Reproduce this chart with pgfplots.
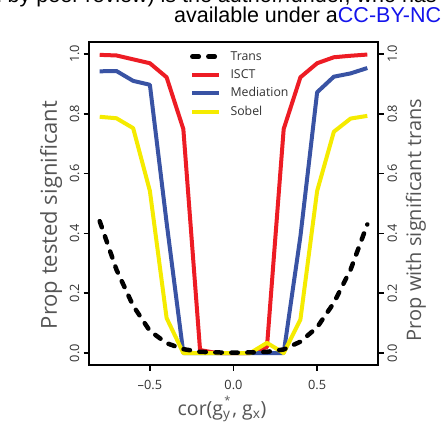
\documentclass[border=0pt]{standalone}
\usepackage{pgfplots}
\pgfplotsset{compat=1.18}
\usepackage{fontspec}
\setmainfont{Open Sans}
\newfontfamily\hdr{Liberation Sans}
\definecolor{cred}{RGB}{237,28,36}
\definecolor{cblue}{RGB}{57,83,164}
\definecolor{cyellow}{RGB}{245,235,0}
\definecolor{tickgray}{RGB}{50,50,50}
\definecolor{labgray}{RGB}{85,85,85}
\definecolor{linkblue}{RGB}{20,20,235}
\tikzset{transstyle/.style={black, line width=4.5pt, line cap=round, dash pattern=on 6.5pt off 9.5pt}}
\pgfplotsset{
  common/.style={
    at={(0pt,0pt)}, anchor=south west,
    width=289pt, height=323pt, scale only axis,
    xmin=-0.864, xmax=0.864, ymin=-0.04, ymax=1.04,
    axis line style={line width=1.5pt},
    tick align=outside, major tick length=5.5pt,
    tick style={black, line width=1.5pt},
    ytick={0,0.2,0.4,0.6,0.8,1}, yticklabels={0.0,0.2,0.4,0.6,0.8,1.0},
    tick label style={font=\fontsize{12.8}{15}\selectfont, text=tickgray, inner sep=0pt},
  }
}
\begin{document}
\begin{tikzpicture}
\useasboundingbox (-89pt,-69pt) rectangle (352pt,365pt);
\begin{scope}
\clip (-89pt,-69pt) rectangle (352pt,365pt);
\node[anchor=base east, inner sep=0pt, font=\hdr\fontsize{21.5}{24}\selectfont] at (348pt,362pt) {(which was not certified by peer review) is the author/funder, who has};
\node[anchor=base west, inner sep=0pt, font=\hdr\fontsize{21.5}{24}\selectfont] at (85pt,342pt) {available under a\textcolor{linkblue}{CC-BY-NC 4.0 International license.}};
\end{scope}

\begin{axis}[common,
  xtick={-0.5,0,0.5}, xticklabels={--0.5,0.0,0.5},
  xtick pos=bottom, ytick pos=left,
  xticklabel style={anchor=north}, xticklabel shift=9.5pt,
  yticklabel style={rotate=90, anchor=south}, yticklabel shift=4pt,
  every axis plot/.append style={line width=4pt, line join=round},
  legend style={at={(0.349,0.982)}, anchor=north west, draw=none, fill=none,
    inner sep=0pt, row sep=1.2pt, column sep=9pt,
    nodes={inner sep=0pt, text height=12pt, text depth=5.2pt},
    font=\fontsize{12.3}{14}\selectfont, text=tickgray},
  legend cell align=left,
  legend image code/.code={\draw[#1] (0pt,0pt) -- (27pt,0pt);},
]
\addlegendimage{transstyle}
\addlegendentry{Trans}
\addplot[cred] table {
-0.8 0.997
-0.7 0.995
-0.6 0.982
-0.5 0.969
-0.4 0.922
-0.3 0.749
-0.2 0.010
-0.1 0.0
0.0 0.0
0.1 0.0
0.2 0.020
0.3 0.749
0.4 0.922
0.5 0.969
0.6 0.989
0.7 0.994
0.8 0.998
};
\addlegendentry{ISCT}
\addplot[cblue] table {
-0.8 0.942
-0.7 0.943
-0.6 0.910
-0.5 0.897
-0.4 0.436
-0.3 0.0
-0.2 0.0
-0.1 0.0
0.0 0.0
0.1 0.0
0.2 0.0
0.3 0.0
0.4 0.390
0.5 0.872
0.6 0.924
0.7 0.935
0.8 0.953
};
\addlegendentry{Mediation}
\addplot[cyellow] table {
-0.8 0.790
-0.7 0.785
-0.6 0.752
-0.5 0.542
-0.4 0.117
-0.3 0.0
-0.2 0.0
-0.1 0.0
0.0 0.0
0.1 0.0
0.2 0.034
0.3 0.0
0.4 0.112
0.5 0.542
0.6 0.740
0.7 0.784
0.8 0.793
};
\addlegendentry{Sobel}
\end{axis}

\begin{axis}[common,
  axis x line=none, axis y line*=right,
  yticklabel style={rotate=90, anchor=north}, yticklabel shift=4pt,
]
\addplot[transstyle] table {
-0.8 0.441
-0.7 0.279
-0.6 0.158
-0.5 0.074
-0.4 0.033
-0.3 0.013
-0.2 0.004
-0.1 0.002
0.0 0.001
0.1 0.002
0.2 0.004
0.3 0.012
0.4 0.038
0.5 0.086
0.6 0.168
0.7 0.279
0.8 0.430
};
\end{axis}

\node[rotate=90, anchor=base, inner sep=0pt, font=\fontsize{22}{26}\selectfont, text=labgray] at (-32pt,150pt) {Prop tested significant};
\node[rotate=90, anchor=base, inner sep=0pt, font=\fontsize{20}{24}\selectfont, text=labgray] at (332pt,145pt) {Prop with significant trans};
\node[anchor=base, inner sep=0pt, font=\fontsize{19.5}{22}\selectfont, text=labgray] at (133pt,-50pt) {cor(g\textsubscript{y}\kern-0.32em\raisebox{0.55em}{\fontsize{11}{12}\selectfont *}\kern0.1em, g\textsubscript{x})};
\end{tikzpicture}
\end{document}
